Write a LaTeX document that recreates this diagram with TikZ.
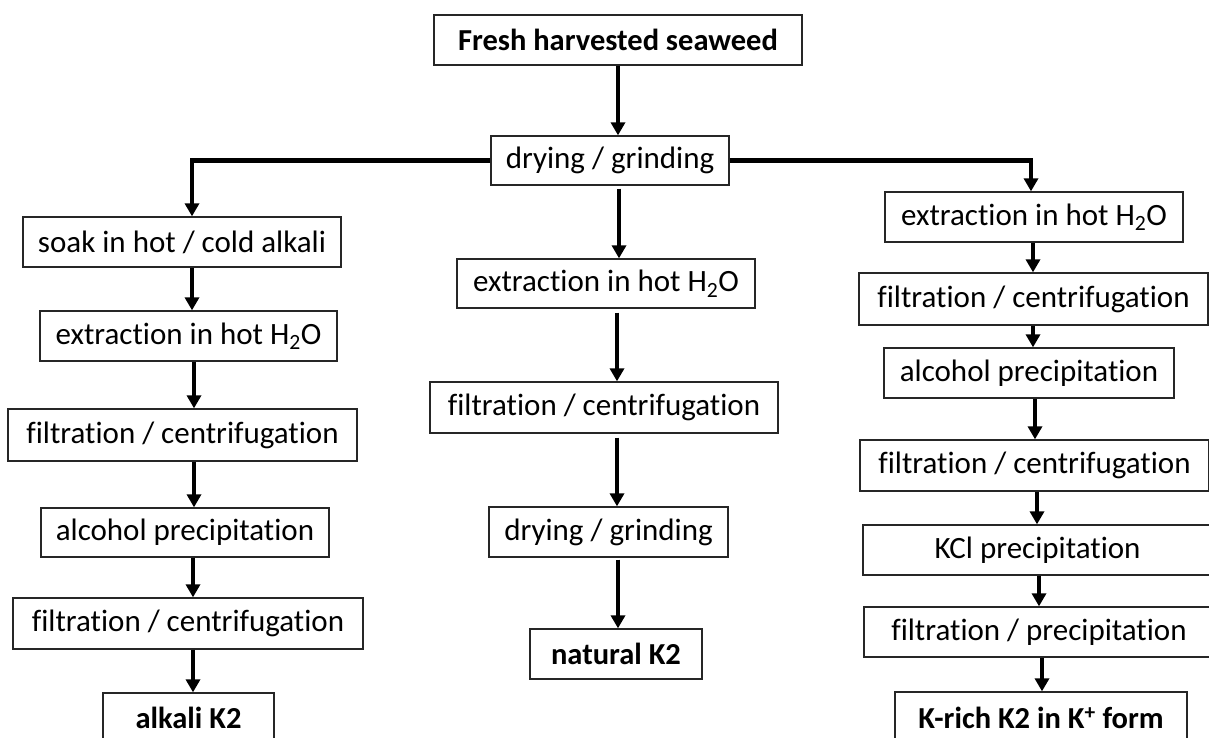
\documentclass[tikz,border=0pt]{standalone}
\usepackage{fontspec}
\setmainfont{Carlito}[Ligatures=NoCommon]
\usetikzlibrary{arrows.meta}
\begin{document}
\begin{tikzpicture}[x=1pt,y=-1pt,
  box/.style={draw=black!85, line width=1.3pt, inner sep=0pt, minimum height=50pt, font=\fontsize{31}{36}\selectfont, text=black},
  bbox/.style={box, font=\fontsize{30.5}{36}\selectfont\bfseries},
  arr/.style={line width=4.5pt, line join=miter, -{Triangle[width=14pt,length=13pt]}}]
\useasboundingbox (0,0) rectangle (1209,738);
\clip (0,0) rectangle (1209,738);
% column x positions for connectors
\coordinate (M0) at (618,0);
\coordinate (M1) at (619,0);
\coordinate (M2) at (617,0);
\coordinate (M3) at (618,0);
\coordinate (L0) at (192,0);
\coordinate (L1) at (194,0);
\coordinate (L2) at (193,0);
\coordinate (R0) at (1031,0);
\coordinate (R1) at (1033,0);
\coordinate (R2) at (1035,0);
\coordinate (R3) at (1037,0);
\coordinate (R4) at (1039,0);
\coordinate (R5) at (1042,0);
% top
\node[bbox, minimum width=368pt] (fresh) at (618,40) {Fresh harvested seaweed};
\node[box, minimum width=238pt, minimum height=49pt] (dry1) at (610,160.5) {drying / grinding};
% left column
\node[box, minimum width=318pt] (soak) at (182,242) {soak in hot / cold alkali};
\node[box, minimum width=297pt] (lext) at (188.5,336) {extraction in hot H\textsubscript{2}O};
\node[box, minimum width=349pt, minimum height=52pt] (lfil1) at (182.5,435) {filtration / centrifugation};
\node[box, minimum width=288pt, minimum height=49pt] (lalc) at (185,532.5) {alcohol precipitation};
\node[box, minimum width=350pt, minimum height=51pt] (lfil2) at (188,623.5) {filtration / centrifugation};
\node[bbox, minimum width=171pt] (alkali) at (188.5,718) {alkali K2};
% middle column
\node[box, minimum width=298pt, minimum height=49pt] (mext) at (606,283.5) {extraction in hot H\textsubscript{2}O};
\node[box, minimum width=348pt, minimum height=51pt] (mfil) at (604,407.5) {filtration / centrifugation};
\node[box, minimum width=239pt] (mdry) at (608.5,532) {drying / grinding};
\node[bbox, minimum width=172pt] (natural) at (616,654) {natural K2};
% right column
\node[box, minimum width=298pt] (rext) at (1034,217) {extraction in hot H\textsubscript{2}O};
\node[box, minimum width=349pt, minimum height=52pt] (rfil1) at (1033.5,299) {filtration / centrifugation};
\node[box, minimum width=290pt] (ralc) at (1029,373) {alcohol precipitation};
\node[box, minimum width=349pt, minimum height=51pt] (rfil2) at (1034.5,465.5) {filtration / centrifugation};
\node[box, minimum width=349pt] (kcl) at (1037.5,550) {KCl precipitation};
\node[box, minimum width=350pt] (rfp) at (1039,632) {filtration / precipitation};
\node[bbox, minimum width=292pt, minimum height=52pt] (krich) at (1041,718) {K-rich K2 in K\textsuperscript{+} form};
% connectors
\draw[arr] (fresh.south -| M0) -- (dry1.north -| M0);
\draw[arr] (dry1.west) -| (soak.north -| L0);
\draw[arr] (dry1.east) -| (rext.north -| R0);
\draw[arr] ([yshift=-3pt]dry1.south -| M1) -- (mext.north -| M1);
\draw[arr] ([yshift=-4pt]mext.south -| M2) -- (mfil.north -| M2);
\draw[arr] ([yshift=-4pt]mfil.south -| M2) -- (mdry.north -| M2);
\draw[arr] ([yshift=-2pt]mdry.south -| M3) -- (natural.north -| M3);
\draw[arr] (soak.south -| L0) -- (lext.north -| L0);
\draw[arr] (lext.south -| L1) -- (lfil1.north -| L1);
\draw[arr] (lfil1.south -| L1) -- (lalc.north -| L1);
\draw[arr] (lalc.south -| L2) -- (lfil2.north -| L2);
\draw[arr] (lfil2.south -| L2) -- (alkali.north -| L2);
\draw[arr] (rext.south -| R1) -- (rfil1.north -| R1);
\draw[arr] (rfil1.south -| R1) -- (ralc.north -| R1);
\draw[arr] (ralc.south -| R2) -- (rfil2.north -| R2);
\draw[arr] (rfil2.south -| R3) -- (kcl.north -| R3);
\draw[arr] (kcl.south -| R4) -- (rfp.north -| R4);
\draw[arr] (rfp.south -| R5) -- (krich.north -| R5);
\end{tikzpicture}
\end{document}
